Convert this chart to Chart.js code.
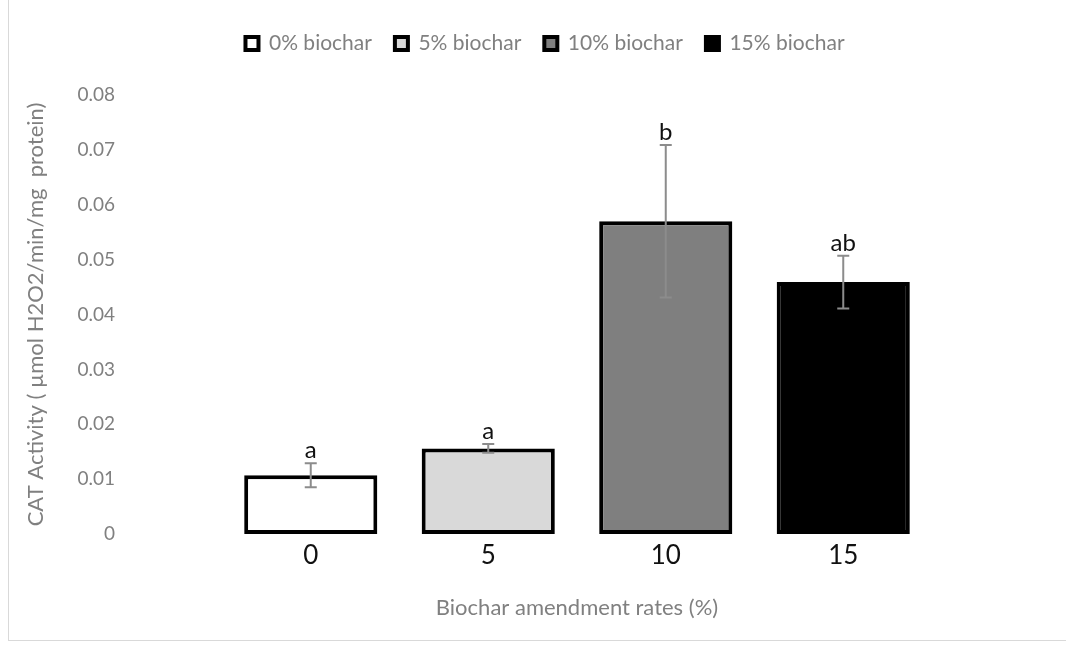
<!DOCTYPE html>
<html>
<head>
<meta charset="utf-8">
<script src="https://cdn.jsdelivr.net/npm/chart.js@4"></script>
<style>
  body { margin: 0; background: #fff; }
  #frame { position: absolute; left: 8px; top: 0; width: 1057px; height: 640px; border-left: 1px solid #d9d9d9; border-bottom: 1px solid #d9d9d9; }
  #wrap { position: absolute; left: 0; top: 0; width: 1066px; height: 646px; }
</style>
</head>
<body>
<div id="frame"></div>
<div id="wrap"><canvas id="myChart"></canvas></div>
<script>
const rates = ['0', '5', '10', '15'];
const legendNames = ['0% biochar', '5% biochar', '10% biochar', '15% biochar'];
const catActivity = [0.0107, 0.0156, 0.0570, 0.0459];
const stdErr = [0.0022, 0.0008, 0.0139, 0.0048];
const letters = ['a', 'a', 'b', 'ab'];
const yTicks = [0, 0.01, 0.02, 0.03, 0.04, 0.05, 0.06, 0.07, 0.08];

const fills = ['#ffffff', '#d9d9d9', '#7f7f7f', '#000000'];
const grey = '#808080';
const fontFam = 'Lato, "Noto Sans", sans-serif';

// legend needs some extra room below it
const legendGap = {
  id: 'legendGap',
  beforeLayout(chart) {
    const lg = chart.legend;
    if (lg && !lg._gapped) {
      const f = lg.fit;
      lg.fit = function () { f.call(this); this.height += 31; };
      lg._gapped = true;
    }
  }
};

const errorBars = {
  id: 'errorBars',
  afterDatasetsDraw(chart) {
    const ctx = chart.ctx;
    const y = chart.scales.y;
    const meta = chart.getDatasetMeta(0);
    ctx.save();
    meta.data.forEach((bar, i) => {
      const top = y.getPixelForValue(catActivity[i] + stdErr[i]);
      const bot = y.getPixelForValue(catActivity[i] - stdErr[i]);
      ctx.strokeStyle = '#8c8c8c';
      ctx.lineWidth = 2;
      ctx.beginPath();
      ctx.moveTo(bar.x, top); ctx.lineTo(bar.x, bot);
      ctx.moveTo(bar.x - 6, top); ctx.lineTo(bar.x + 6, top);
      ctx.moveTo(bar.x - 6, bot); ctx.lineTo(bar.x + 6, bot);
      ctx.stroke();
      ctx.fillStyle = '#111';
      ctx.font = '24px ' + fontFam;
      ctx.textAlign = 'center';
      ctx.textBaseline = 'bottom';
      ctx.fillText(letters[i], bar.x, top - 1);
    });
    ctx.restore();
  }
};

const data = {
  labels: rates,
  datasets: [{
    label: 'CAT Activity',
    data: catActivity,
    backgroundColor: fills,
    borderColor: '#000',
    borderWidth: 4,
    borderSkipped: false,
    barPercentage: 0.75,
    categoryPercentage: 1
  }]
};

const config = {
  type: 'bar',
  data: data,
  plugins: [legendGap, errorBars],
  options: {
    responsive: false,
    animation: false,
    layout: { padding: { left: 44, right: 20, top: 10, bottom: 0 } },
    plugins: {
      tooltip: { enabled: false },
      legend: {
        display: true,
        position: 'top',
        onClick: null,
        labels: {
          boxWidth: 13,
          boxHeight: 13,
          padding: 23,
          color: grey,
          font: { family: fontFam, size: 21 },
          generateLabels: () => legendNames.map((n, i) => ({
            text: n,
            fillStyle: fills[i],
            strokeStyle: '#000',
            lineWidth: 4,
            fontColor: grey,
            hidden: false,
            index: i
          }))
        }
      }
    },
    scales: {
      x: {
        grid: { display: false, drawTicks: false },
        border: { display: false },
        ticks: { color: '#111', font: { family: fontFam, size: 26 }, padding: 6 },
        title: {
          display: true,
          text: 'Biochar amendment rates (%)',
          color: grey,
          font: { family: fontFam, size: 22 },
          padding: { top: 0, bottom: 25 }
        },
        afterFit: (s) => { s.height = 112; }
      },
      y: {
        min: 0,
        max: 0.08,
        grid: { display: false, drawTicks: false },
        border: { display: false },
        afterBuildTicks: (s) => { s.ticks = yTicks.map(v => ({ value: v })); },
        ticks: {
          color: grey,
          font: { family: fontFam, size: 19 },
          padding: 107,
          callback: (v) => String(Math.round(v * 100) / 100)
        },
        title: {
          display: true,
          text: 'CAT Activity ( µmol H2O2/min/mg  protein)',
          color: grey,
          font: { family: fontFam, size: 22 },
          padding: { top: -21, bottom: 0 }
        },
        afterFit: (s) => {
          s.width = 178;
          // the big label gap is horizontal only
          s.paddingTop = 12;
          s.paddingBottom = 12;
        }
      },
      yRight: {
        position: 'right',
        display: true,
        grid: { display: false, drawTicks: false },
        border: { display: false },
        ticks: { display: false },
        afterFit: (s) => { s.width = 114; }
      }
    }
  }
};

const cv = document.getElementById('myChart');
cv.width = 1066;
cv.height = 646;
new Chart(cv, config);
</script>
</body>
</html>
